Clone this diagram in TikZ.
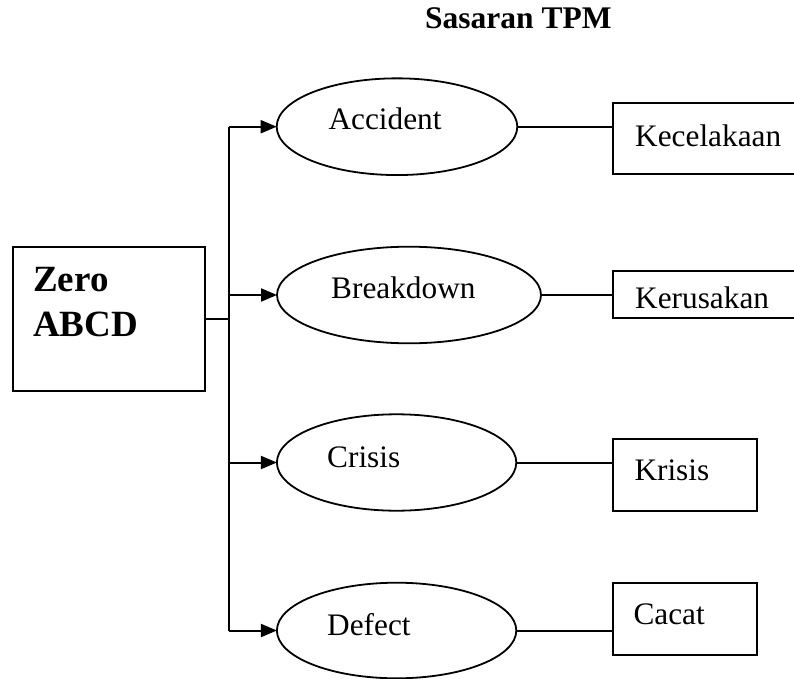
\documentclass[tikz,border=0pt]{standalone}
\usepackage{fontspec}
\setmainfont{Liberation Serif}
\usetikzlibrary{shapes.geometric,arrows.meta}
\begin{document}
\begin{tikzpicture}[x=1pt,y=-1pt,
  lw/.style={line width=2pt},
  oval/.style={draw,line width=1.8pt,ellipse,inner sep=0pt,outer sep=0pt},
  boxr/.style={draw,lw,rectangle,inner sep=0pt,outer sep=0pt},
  txt/.style={anchor=base west,inner sep=0pt,font=\fontsize{31.3}{37}\selectfont},
  bigtxt/.style={anchor=base west,inner sep=0pt,font=\fontsize{37}{44}\selectfont\bfseries},
  conn/.style={lw},
  arr/.style={lw,-{Triangle[length=16pt,width=13pt]}}]
\useasboundingbox (0,0) rectangle (794,679);
% title
\node[txt,font=\fontsize{31.5}{37}\selectfont\bfseries] (title) at (425,28.3) {Sasaran TPM};
% left box
\node[boxr,minimum width=192.3pt,minimum height=144pt] (zero) at (108.85,318.7) {};
\node[bigtxt] (zt1) at (33,291.7) {Zero};
\node[bigtxt] (zt2) at (33,336) {ABCD};
% ellipses
\node[oval,minimum width=240.6pt,minimum height=96.7pt] (e1) at (397,126.7) {};
\node[oval,minimum width=264pt,minimum height=96.6pt] (e2) at (409,295) {};
\node[oval,minimum width=239.4pt,minimum height=96.4pt] (e3) at (396.6,462.5) {};
\node[oval,minimum width=239.4pt,minimum height=95.6pt] (e4) at (396.6,630.5) {};
\node[txt] (t1) at (328.3,130) {Accident};
\node[txt] (t2) at (331,298.3) {Breakdown};
\node[txt] (t3) at (327,467) {Crisis};
\node[txt] (t4) at (327,635) {Defect};
% right boxes
\node[boxr,minimum width=192.5pt,minimum height=71.6pt] (r1) at (708.75,138.5) {};
\node[boxr,minimum width=192.5pt,minimum height=47.3pt] (r2) at (708.75,294.65) {};
\node[boxr,minimum width=144.6pt,minimum height=71.7pt] (r3) at (685,474.85) {};
\node[boxr,minimum width=144.6pt,minimum height=72.3pt] (r4) at (685,618.85) {};
\node[txt] (k1) at (635,147) {Kecelakaan};
\node[txt] (k2) at (635,308.3) {Kerusakan};
\node[txt] (k3) at (634.3,480.7) {Krisis};
\node[txt] (k4) at (633.3,624) {Cacat};
% trunk
\coordinate (tx) at (229,0);
\draw[conn] (zero.east) -- (zero.east -| tx);
\draw[conn] (e1.west -| tx) -- (e4.west -| tx);
\draw[arr] (e1.west -| tx) -- (e1.west);
\draw[arr] (e2.west -| tx) -- (e2.west);
\draw[arr] (e3.west -| tx) -- (e3.west);
\draw[arr] (e4.west -| tx) -- (e4.west);
% ellipse to box
\draw[conn] (e1.east) -- (e1.east -| r1.west);
\draw[conn] (e2.east) -- (e2.east -| r2.west);
\draw[conn] (e3.east) -- (e3.east -| r3.west);
\draw[conn] (e4.east) -- (e4.east -| r4.west);
\end{tikzpicture}
\end{document}
